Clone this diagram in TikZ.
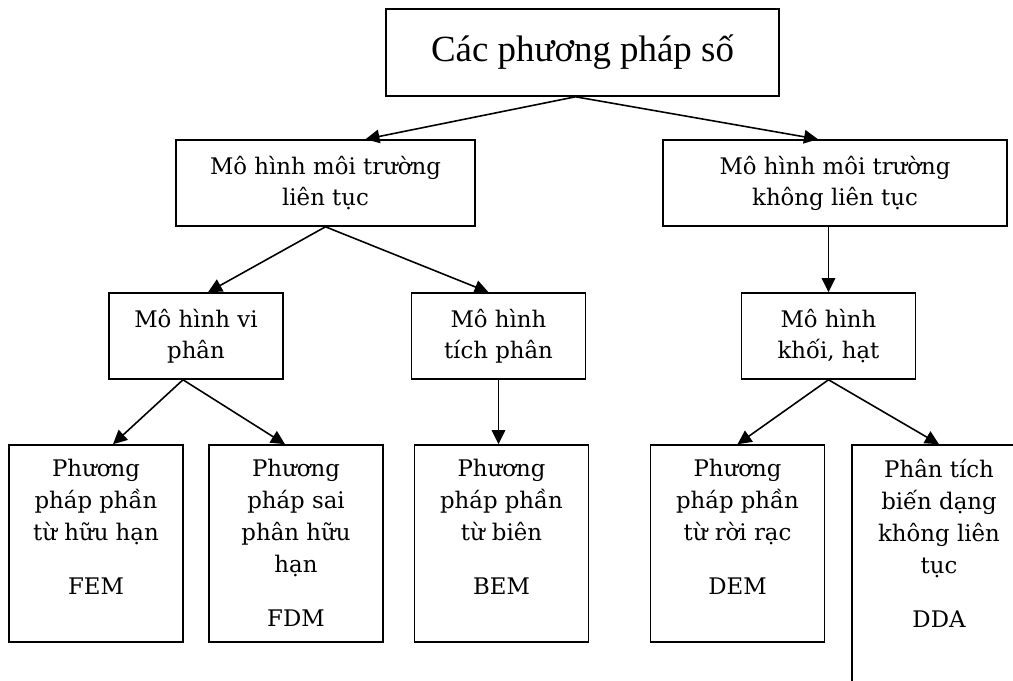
\documentclass[tikz,border=0pt]{standalone}
\usepackage{fontspec}
\setmainfont{Liberation Serif}
\newfontfamily\boxfont{DejaVu Serif}
\usetikzlibrary{arrows.meta}

\newcommand{\leaftext}[3][3.94cm]{%
  \begin{minipage}[t][#1][t]{3.48cm}
    \fontsize{13pt}{18.3pt}\selectfont
    \centering\vspace*{0.28cm}#2\\[0.44cm]#3
  \end{minipage}}

\begin{document}
\begin{tikzpicture}[x=0.02cm, y=-0.02cm,
    every node/.style={font=\boxfont\fontsize{13pt}{17.6pt}\selectfont},
    box/.style={draw, line width=0.9pt, inner sep=0pt, align=center, minimum width=3.48cm, minimum height=1.72cm},
    leaf/.style={draw, line width=0.9pt, inner sep=0pt},
    link/.style={line width=0.9pt, -{Triangle[length=0.28cm, width=0.27cm]}}]

        \useasboundingbox (0, 0) rectangle (1013, 680);
        \clip (0, 0) rectangle (1013, 680);

        \node [box, minimum width=7.86cm, minimum height=1.74cm, font=\fontsize{21pt}{24pt}\selectfont] (top) at (582.5, 52.5) {Các phương pháp số};

        \node [box, minimum width=5.98cm] (cont) at (325.5, 183) {Mô hình môi trường\\liên tục};
        \node [box, minimum width=6.88cm] (discont) at (835, 183) {Mô hình môi trường\\không liên tục};

        \node [box] (diff) at (196, 336) {Mô hình vi\\phân};
        \node [box] (integ) at (498.5, 336) {Mô hình\\tích phân};
        \node [box] (block) at (828.5, 336) {Mô hình\\khối, hạt};

        \node [leaf] (fem) at (96, 543.5) {\leaftext{Phương\\pháp phần\\từ hữu hạn}{FEM}};
        \node [leaf] (fdm) at (296, 543.5) {\leaftext{Phương\\pháp sai\\phân hữu\\hạn}{FDM}};
        \node [leaf] (bem) at (501.5, 543.5) {\leaftext{Phương\\pháp phần\\từ biên}{BEM}};
        \node [leaf] (dem) at (737.5, 543.5) {\leaftext{Phương\\pháp phần\\từ rời rạc}{DEM}};
        \node [leaf] (dda) at (939, 580) {\leaftext[5.4cm]{Phân tích\\biến dạng\\không liên\\tục}{DDA}};

        \draw [link] ([xshift=-0.14cm]top.south) -- ([xshift=0.8cm]cont.north);
        \draw [link] ([xshift=-0.14cm]top.south) -- ([xshift=-0.34cm]discont.north);

        \draw [link] (cont.south) -- ([xshift=0.24cm]diff.north);
        \draw [link] (cont.south) -- ([xshift=-0.2cm]integ.north);
        \draw [link] (block.north |- discont.south) -- (block.north);

        \draw [link] ([xshift=-0.26cm]diff.south) -- ([xshift=0.34cm]fem.north);
        \draw [link] ([xshift=-0.26cm]diff.south) -- ([xshift=-0.22cm]fdm.north);
        \draw [link] (integ.south) -- (integ.south |- bem.north);
        \draw [link] (block.south) -- (dem.north);
        \draw [link] (block.south) -- (dda.north);
      \end{tikzpicture}
\end{document}
